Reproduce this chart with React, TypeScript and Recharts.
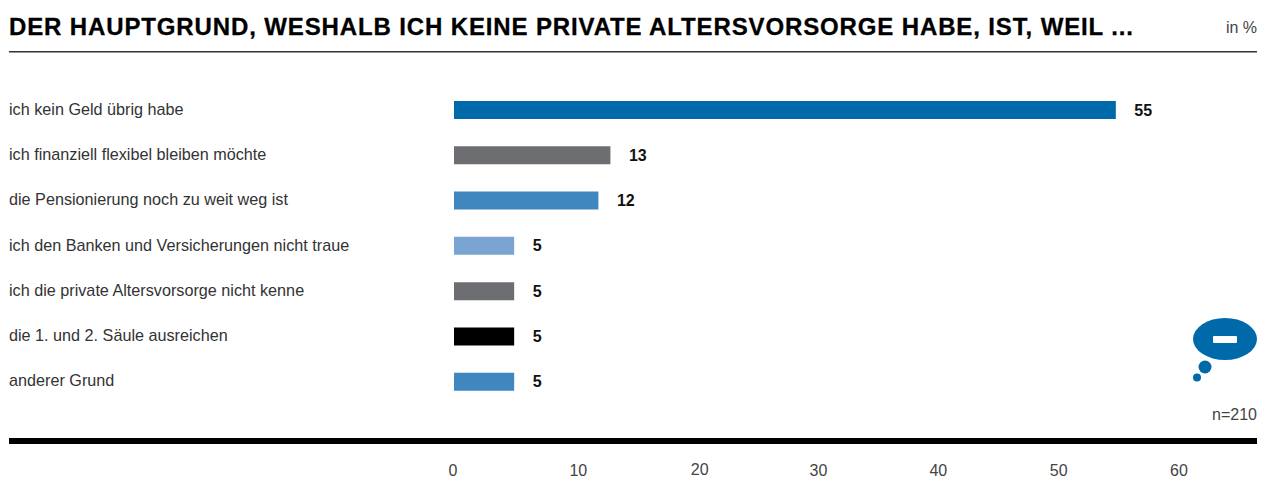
import React from 'react';
import { BarChart, Bar, XAxis, YAxis, Cell, LabelList } from 'recharts';

const categories = [
  'ich kein Geld übrig habe',
  'ich finanziell flexibel bleiben möchte',
  'die Pensionierung noch zu weit weg ist',
  'ich den Banken und Versicherungen nicht traue',
  'ich die private Altersvorsorge nicht kenne',
  'die 1. und 2. Säule ausreichen',
  'anderer Grund',
];
const values = [55, 13, 12, 5, 5, 5, 5];
const colors = ['#0069aa', '#6d6e71', '#4087c0', '#7aa5d2', '#6d6e71', '#000000', '#4087c0'];
const xTicks = [0, 10, 20, 30, 40, 50, 60];
const xTickNudge = [-1, 4, 5, 3.5, 3, 3, 3];
const xTickRise = [0, 0, 1, 0, 0, 0, 0];
const title = 'DER HAUPTGRUND, WESHALB ICH KEINE PRIVATE ALTERSVORSORGE HABE, IST, WEIL ...';

const data = categories.map((name, i) => ({ name, value: values[i] }));
const FONT = '"Liberation Sans", Arial, sans-serif';

const XTick = (p: any) => {
  const i = p.index;
  return (
    <text x={p.x + xTickNudge[i]} y={476 - xTickRise[i]} textAnchor="middle" fontFamily={FONT} fontSize={16} fill="#444">
      {p.payload.value}
    </text>
  );
};
const YTick = (p: any) => (
  <text x={9} y={p.y + 5} textAnchor="start" fontFamily={FONT} fontSize={16.2} fill="#333">
    {p.payload.value}
  </text>
);
const ValueLabel = (p: any) => (
  <text x={p.x + p.width + 18.5} y={p.y + p.height / 2 + 5.5} fontFamily={FONT} fontSize={16} fontWeight={700} fill="#111">
    {p.value}
  </text>
);

export default function App() {
  return (
    <div style={{ position: 'absolute', left: 0, top: 0, width: 1271, height: 480, overflow: 'hidden', background: '#fff', fontFamily: FONT }}>
      <BarChart
        width={1271}
        height={480}
        data={data}
        layout="vertical"
        margin={{ top: 87, right: 95, bottom: 0, left: 0 }}
        barCategoryGap={27}
      >
        <XAxis type="number" domain={[0, 60]} ticks={xTicks} axisLine={false} tickLine={false} height={76} tick={XTick} interval={0} />
        <YAxis type="category" dataKey="name" width={454} axisLine={false} tickLine={false} tick={YTick} interval={0} />
        <Bar dataKey="value" isAnimationActive={false} barSize={18}>
          {data.map((d, i) => (
            <Cell key={d.name} fill={colors[i]} />
          ))}
          <LabelList dataKey="value" content={ValueLabel} />
        </Bar>
      </BarChart>
      <svg width={1271} height={480} style={{ position: 'absolute', left: 0, top: 0, pointerEvents: 'none' }}>
        <text x={9} y={34.5} fontFamily={FONT} fontSize={24} fontWeight={700} fill="#000" stroke="#000" strokeWidth={0.3} letterSpacing={0.87}>{title}</text>
        <text x={1257} y={33} textAnchor="end" fontFamily={FONT} fontSize={16} fill="#444">in %</text>
        <rect x={9} y={51} width={1248} height={1.5} fill="#333" />
        <rect x={9} y={438} width={1248} height={6} fill="#000" />
        <text x={1257} y={420} textAnchor="end" fontFamily={FONT} fontSize={16} fill="#444">n=210</text>
        <ellipse cx={1225} cy={339} rx={32} ry={21} fill="#0069aa" />
        <rect x={1213} y={336} width={24} height={7} rx={1} fill="#fff" />
        <circle cx={1205} cy={367} r={6.5} fill="#0069aa" />
        <circle cx={1197} cy={377.5} r={4} fill="#0069aa" />
      </svg>
    </div>
  );
}
